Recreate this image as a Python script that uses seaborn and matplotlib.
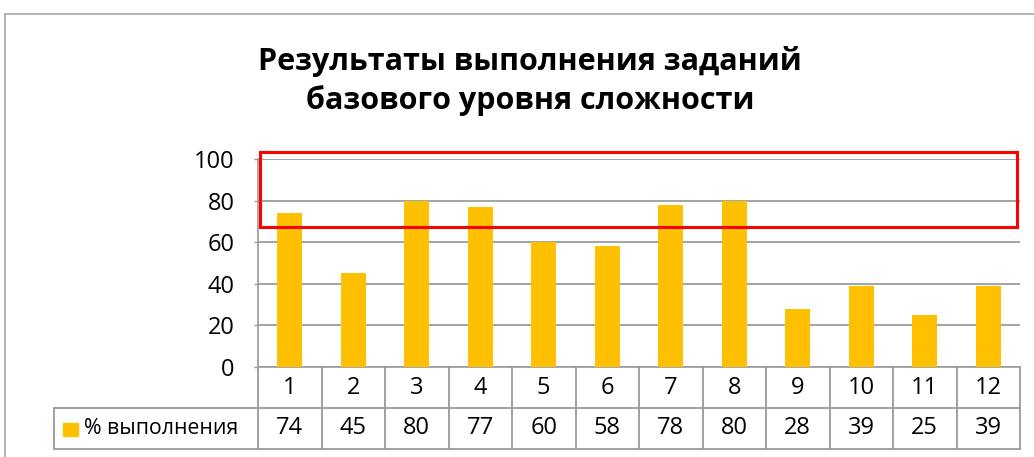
import matplotlib.pyplot as plt
import matplotlib.transforms as mtransforms
from matplotlib.patches import Rectangle
import seaborn as sns
import pandas as pd

sns.set_theme(style="white")
plt.rcParams["font.family"] = ["Open Sans", "DejaVu Sans"]
plt.rcParams["text.color"] = "black"
plt.rcParams["ytick.labelcolor"] = "black"

# Данные
tasks = ["1", "2", "3", "4", "5", "6", "7", "8", "9", "10", "11", "12"]
percent = [74, 45, 80, 77, 60, 58, 78, 80, 28, 39, 25, 39]
series_name = "% выполнения"
title = "Результаты выполнения заданий\nбазового уровня сложности"

df = pd.DataFrame({"task": tasks, "percent": percent})

W, H = 1034, 457
fig = plt.figure(figsize=(W / 100, H / 100), dpi=100)
ax = fig.add_axes([258 / W, (H - 367) / H, (1020 - 258) / W, (367 - 159) / H])

grey = "#9a9a9a"
bar_color = "#FFC000"
fs = 17

sns.barplot(data=df, x="task", y="percent", color=bar_color, width=0.4,
            saturation=1, ax=ax, zorder=3, linewidth=0)
ax.set_xlim(-0.5, len(tasks) - 0.5)
ax.set_ylim(0, 100)
ax.set_yticks([0, 20, 40, 60, 80, 100])
ax.yaxis.grid(True, color="#8c8c8c", linewidth=1.1)
ax.set_xticks([])
ax.set_xlabel("")
ax.set_ylabel("")
ax.tick_params(axis="y", labelsize=fs, labelcolor="black", length=3, width=1,
               color=grey, pad=14, left=True)
for s in ["top", "right"]:
    ax.spines[s].set_visible(False)
ax.spines["left"].set_color(grey)
ax.spines["bottom"].set_color(grey)
ax.spines["left"].set_linewidth(1.2)
ax.spines["bottom"].set_linewidth(1.2)

# Таблица данных под графиком
tr = mtransforms.blended_transform_factory(ax.transData, ax.transAxes)
axh = 367 - 159
r1 = -41 / axh
r2 = -82 / axh
x_left = ax.transData.inverted().transform((54, 0))[0]
lw = 1.3
for i in range(len(tasks) + 1):
    ax.plot([i - 0.5, i - 0.5], [0, r2], color=grey, lw=lw, transform=tr, clip_on=False)
ax.plot([x_left, len(tasks) - 0.5], [r1, r1], color=grey, lw=lw, transform=tr, clip_on=False)
ax.plot([x_left, len(tasks) - 0.5], [r2, r2], color=grey, lw=lw, transform=tr, clip_on=False)
ax.plot([x_left, x_left], [r1, r2], color=grey, lw=lw, transform=tr, clip_on=False)
for i, (t, v) in enumerate(zip(tasks, percent)):
    ax.text(i, r1 / 2, t, ha="center", va="center", fontsize=fs, transform=tr)
    ax.text(i, (r1 + r2) / 2, str(v), ha="center", va="center", fontsize=fs, transform=tr)

# Легенда в таблице
fig.patches.append(Rectangle((63 / W, (H - 436) / H), 15 / W, 13 / H,
                             transform=fig.transFigure, color=bar_color))
fig.text(84 / W, (H - 429) / H, series_name, ha="left", va="center", fontsize=15.3)

# Заголовок
fig.text(530 / W, 1 - 81 / H, title, ha="center", va="center", fontsize=22,
         fontweight="bold", linespacing=1.35)

# Рамка области диаграммы
fig.patches.append(Rectangle((5 / W, -0.1), 1.2, 1 - 14 / H + 0.1,
                             transform=fig.transFigure, fill=False,
                             edgecolor="#a6a6a6", lw=1.2))

# Красная рамка выделения
ax.add_patch(Rectangle((-0.47, 67.3), 11.92, 36.1, fill=False, edgecolor="red",
                       lw=2.2, clip_on=False, zorder=5))

fig.savefig("out.png", dpi=100)
